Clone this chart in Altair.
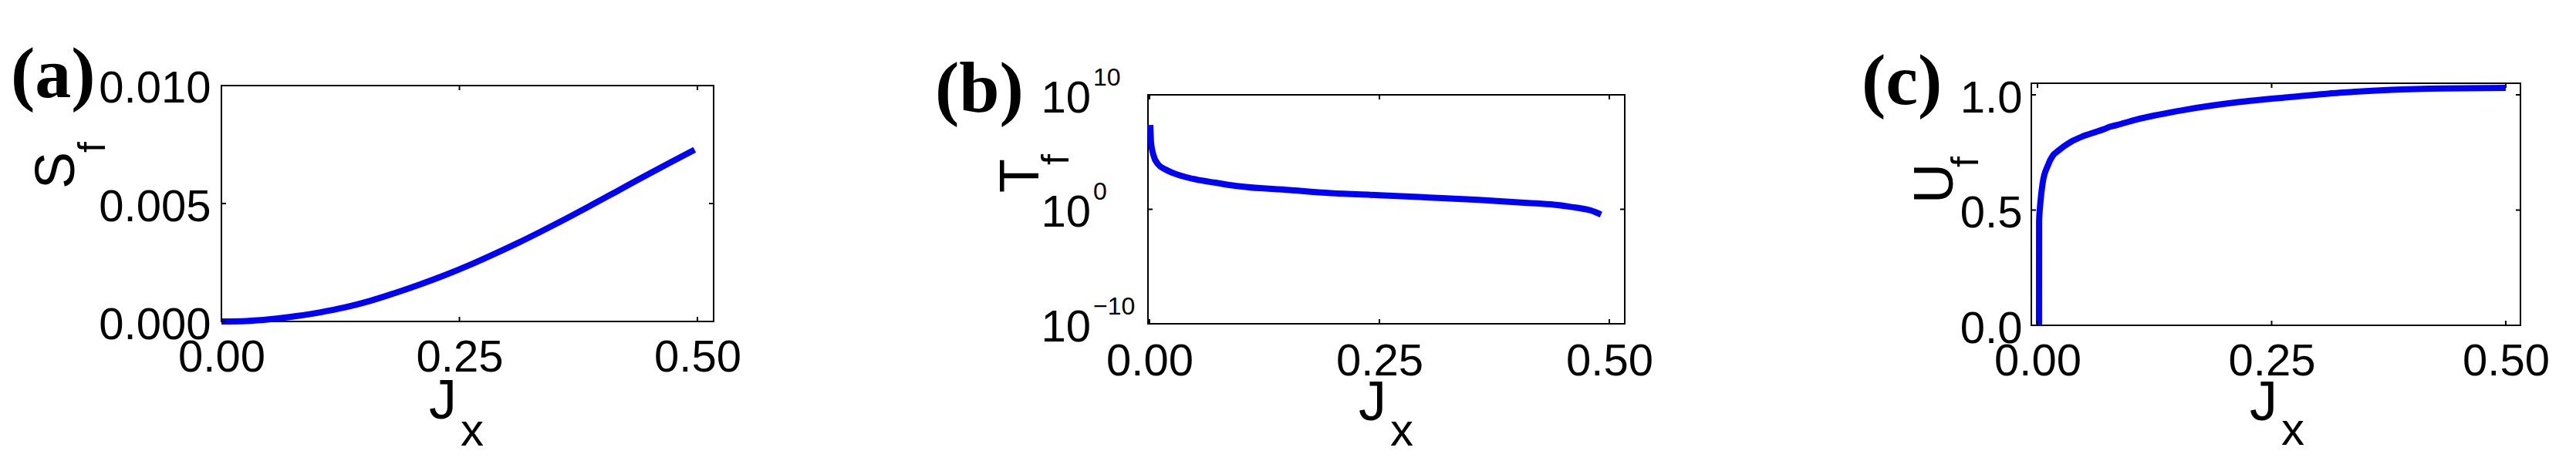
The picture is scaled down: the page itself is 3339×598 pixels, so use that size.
import altair as alt
import pandas as pd

# ---------------- data ----------------
a_x = [0, 0.026, 0.052, 0.0786, 0.104, 0.13, 0.156, 0.182, 0.208, 0.234, 0.26, 0.285,
       0.311, 0.337, 0.363, 0.389, 0.415, 0.44, 0.47, 0.497]
a_y = [0, 0.00002, 0.0001, 0.00023, 0.00039, 0.0006, 0.00087, 0.0012, 0.00156, 0.00195,
       0.00238, 0.00283, 0.00332, 0.00384, 0.00438, 0.00494, 0.00551, 0.00606, 0.00671,
       0.00728]

b_x = [0.0008, 0.0017, 0.0042, 0.0092, 0.0176, 0.0344, 0.051, 0.072, 0.093, 0.152,
       0.197, 0.25, 0.304, 0.358, 0.411, 0.44, 0.465, 0.48, 0.491]
b_y = [2.34e7, 5.75e5, 5.6e4, 8.7e3, 2.95e3, 851, 398, 209, 112, 47.9,
       25.7, 17.0, 10.7, 6.6, 3.63, 2.51, 1.35, 0.79, 0.347]

c_x = [0.0016, 0.0017, 0.0027, 0.0040, 0.0055, 0.011, 0.0165, 0.022, 0.0356, 0.049,
       0.071, 0.077, 0.085, 0.104, 0.159, 0.214, 0.269, 0.323, 0.378, 0.433, 0.5]
c_y = [0.0, 0.45, 0.515, 0.57, 0.617, 0.693, 0.737, 0.757, 0.796, 0.821,
       0.851, 0.861, 0.869, 0.891, 0.936, 0.968, 0.990, 1.009, 1.022, 1.028, 1.03]

x_ticks = [0.0, 0.25, 0.5]
a_yticks = [0.0, 0.005, 0.01]
b_yticks = [1e-10, 1.0, 1e10]
b_exponents = ["\u221210", "0", "10"]
c_yticks = [0.0, 0.5, 1.0]

# axis ranges (box limits) and plot-area extents
a_xdom = [0.0, 0.517]
a_ydom = [-0.000163, 0.010098]
a_box = [0.0, 0.01]
b_xdom = [-0.0017, 0.5168]
b_ydom = [7.333e-11, 1.0235e11]
b_box = [1e-10, 1e10]
c_xdom = [-0.0066, 0.5157]
c_ydom = [0.0, 1.0502]
c_box = [0.0, 1.0502]

FONT = "Liberation Sans"
SERIF = "Liberation Serif"
BLUE = "#0000ff"
VIEW_H = 314
LABEL_SIZE = 58
TITLE_SIZE = 72
LETTER_SIZE = 94
FSUB = 50
XSUB = 60
LW = 8

one = pd.DataFrame({"k": [0]})


def txt(text, x, y, size, angle=None, font=FONT, weight="normal", align="center",
        baseline="alphabetic"):
    kw = dict(text=text, fontSize=size, font=font, fontWeight=weight, align=align,
              baseline=baseline, color="black")
    if angle is not None:
        kw["angle"] = angle
    return alt.Chart(one).mark_text(**kw).encode(x=alt.value(x), y=alt.value(y))


def panel(xv, yv, xdom, ydom, box, width, yticks, xpad, log=False, yfmt=None, ypad=14,
          letter="", letter_pos=(0, 0), ytitle="", ytitle_pos=(0, 0), f_pos=(0, 0),
          jx_pos=(0, 0), sub_pos=(0, 0), extra=None):
    xscale = alt.Scale(domain=xdom, nice=False, zero=False)
    if log:
        yscale = alt.Scale(type="log", domain=ydom, nice=False)
    else:
        yscale = alt.Scale(domain=ydom, nice=False, zero=False)
    xaxis = alt.Axis(values=x_ticks, format=".2f", title=None, domain=False, ticks=False,
                     tickSize=0, grid=False, labelFont=FONT, labelFontSize=LABEL_SIZE,
                     labelPadding=xpad, labelColor="black", labelFlush=False,
                     labelOverlap=False)
    if log:
        yaxis = None
    else:
        yaxis = alt.Axis(values=yticks, format=yfmt, title=None, domain=False, ticks=False,
                         tickSize=0, grid=False, labelFont=FONT, labelFontSize=LABEL_SIZE,
                         labelPadding=ypad, labelOffset=5, labelColor="black",
                         labelFlush=False, labelOverlap=False)

    def X(f):
        return alt.X(f, type="quantitative", scale=xscale, axis=xaxis)

    def Y(f):
        return alt.Y(f, type="quantitative", scale=yscale, axis=yaxis)

    df = pd.DataFrame({"x": xv, "y": yv})
    line = alt.Chart(df).mark_line(color=BLUE, strokeWidth=LW, interpolate="monotone").encode(
        x=X("x"), y=Y("y"))

    frame_df = pd.DataFrame({"x": [xdom[0]], "x2": [xdom[1]], "y": [box[0]], "y2": [box[1]]})
    frame = alt.Chart(frame_df).mark_rect(fillOpacity=0, stroke="black", strokeWidth=2).encode(
        x=X("x"), x2="x2:Q", y=Y("y"), y2="y2:Q")

    xt = pd.DataFrame({"x": x_ticks})
    yt = pd.DataFrame({"y": yticks})
    tk = dict(size=6, thickness=2, color="black", opacity=1)
    bot = alt.Chart(xt).mark_tick(orient="vertical", yOffset=-3, **tk).encode(
        x=X("x"), y=alt.YDatum(box[0], type="quantitative", scale=yscale, axis=yaxis))
    top = alt.Chart(xt).mark_tick(orient="vertical", yOffset=3, **tk).encode(
        x=X("x"), y=alt.YDatum(box[1], type="quantitative", scale=yscale, axis=yaxis))
    left = alt.Chart(yt).mark_tick(orient="horizontal", xOffset=3, **tk).encode(
        y=Y("y"), x=alt.XDatum(xdom[0], type="quantitative", scale=xscale, axis=xaxis))
    right = alt.Chart(yt).mark_tick(orient="horizontal", xOffset=-3, **tk).encode(
        y=Y("y"), x=alt.XDatum(xdom[1], type="quantitative", scale=xscale, axis=xaxis))

    layers = [frame, line, bot, top, left, right,
              txt(letter, letter_pos[0], letter_pos[1], LETTER_SIZE, font=SERIF,
                  weight="bold", align="left"),
              txt(ytitle, ytitle_pos[0], ytitle_pos[1], TITLE_SIZE, angle=270),
              txt("f", f_pos[0], f_pos[1], FSUB, angle=270),
              txt("J", jx_pos[0], jx_pos[1], TITLE_SIZE),
              txt("x", sub_pos[0], sub_pos[1], XSUB)]

    if log:
        lab = pd.DataFrame({"y": yticks, "base": ["10"] * len(yticks), "exp": b_exponents})
        layers.append(alt.Chart(lab).mark_text(align="right", baseline="middle", dy=6,
                                               fontSize=LABEL_SIZE, font=FONT, color="black")
                      .encode(y=Y("y"), x=alt.value(-74), text="base:N"))
        layers.append(alt.Chart(lab).mark_text(align="left", baseline="middle", dy=-22,
                                               fontSize=32, font=FONT, color="black")
                      .encode(y=Y("y"), x=alt.value(-71), text="exp:N"))
    if extra is not None:
        layers.append(extra)

    return alt.layer(*layers).properties(width=width, height=VIEW_H)


anchor = alt.Chart(one).mark_point(filled=True, size=1, color="white", opacity=1).encode(
    x=alt.value(-278), y=alt.value(-99))

pa = panel(a_x, a_y, a_xdom, a_ydom, a_box, 638, a_yticks, xpad=13, yfmt=".3f", ypad=14,
           letter="(a)", letter_pos=(-273, 18), ytitle="S", ytitle_pos=(-191, 113),
           f_pos=(-151, 83), jx_pos=(287, 435), sub_pos=(325, 470), extra=anchor)
pb = panel(b_x, b_y, b_xdom, b_ydom, b_box, 618, b_yticks, xpad=18, log=True,
           letter="(b)", letter_pos=(-276, 37), ytitle="T", ytitle_pos=(-142, 120),
           f_pos=(-103, 99), jx_pos=(291, 437), sub_pos=(329, 470))
pc = panel(c_x, c_y, c_xdom, c_ydom, c_box, 634, c_yticks, xpad=18, yfmt=".1f", ypad=12,
           letter="(c)", letter_pos=(-220, 27), ytitle="U", ytitle_pos=(-102, 130),
           f_pos=(-69, 102), jx_pos=(301, 437), sub_pos=(339, 469))


def spacer(w):
    return alt.Chart(one).mark_point(opacity=0).properties(width=w, height=VIEW_H)


chart = alt.hconcat(pa, spacer(563), pb, spacer(527), pc, spacing=0, bounds="flush").properties(
    padding=0).configure_view(stroke=None)

chart.save("out.html", embed_options={"renderer": "svg", "actions": False})
